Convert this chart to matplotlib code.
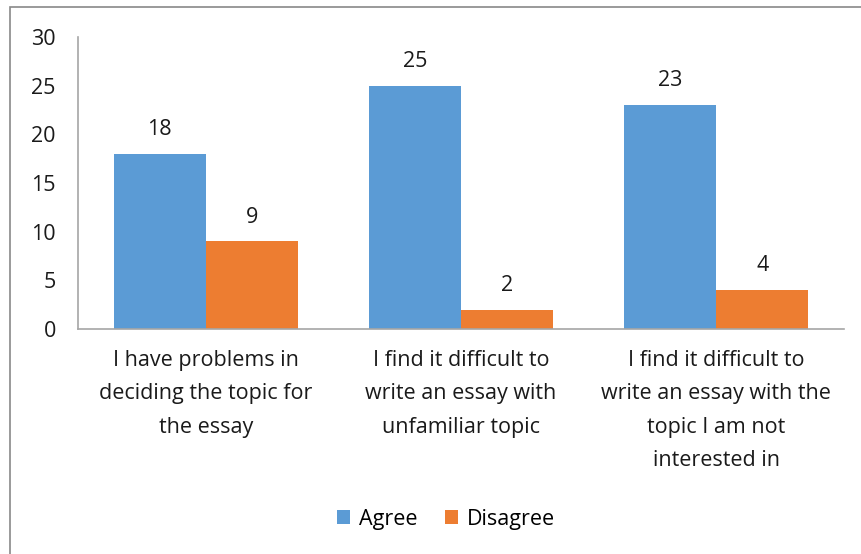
import numpy as np
import matplotlib.pyplot as plt
from matplotlib.patches import Rectangle

plt.rcParams['font.family'] = ['Open Sans', 'DejaVu Sans']

categories = ["I have problems in\ndeciding the topic for\nthe essay",
              "I find it difficult to\nwrite an essay with\nunfamiliar topic",
              "I find it difficult to\nwrite an essay with the\ntopic I am not\ninterested in"]
agree = [18, 25, 23]
disagree = [9, 2, 4]
yticks = [0, 5, 10, 15, 20, 25, 30]

blue = '#5B9BD5'
orange = '#ED7D31'
axis_grey = '#A6A6A6'
txt = '#1a1a1a'
fs = 15.5

fig = plt.figure(figsize=(8.62, 5.54), dpi=100)
ax = fig.add_axes([78/862, 1-329/554, (844-78)/862, (329-37)/554])

# outer chart frame
fig.patches.append(Rectangle((10/862, -0.05), 1.2, 1 - 7/554 + 0.05,
                             transform=fig.transFigure, fill=False,
                             edgecolor='#898989', linewidth=1.2))

x = np.arange(len(categories))
w = 0.36
b1 = ax.bar(x - w/2, agree, w, color=blue, label='Agree')
b2 = ax.bar(x + w/2, disagree, w, color=orange, label='Disagree')

for bars, vals in ((b1, agree), (b2, disagree)):
    for r, v in zip(bars, vals):
        ax.annotate(str(v), (r.get_x() + r.get_width()/2, v),
                    xytext=(0, 10), textcoords='offset points',
                    ha='center', va='bottom', fontsize=fs, color=txt)

ax.set_xlim(-0.5, 2.5)
ax.set_ylim(0, 30)
ax.set_yticks(yticks)
ax.set_xticks(x)
ax.set_xticklabels(categories, fontsize=fs, linespacing=1.78, color=txt)
ax.tick_params(axis='y', length=0, pad=16, labelsize=fs, labelcolor=txt)
ax.tick_params(axis='x', length=0, pad=15)
for s in ('top', 'right'):
    ax.spines[s].set_visible(False)
for s in ('left', 'bottom'):
    ax.spines[s].set_color(axis_grey)
    ax.spines[s].set_linewidth(1.2)

fig.legend(handles=[b1, b2], loc='center', bbox_to_anchor=(446/862, 1-519/554),
           ncol=2, frameon=False, fontsize=fs, handlelength=0.6, handleheight=0.6,
           handletextpad=0.4, columnspacing=1.3)

fig.savefig('out.png', dpi=100)
